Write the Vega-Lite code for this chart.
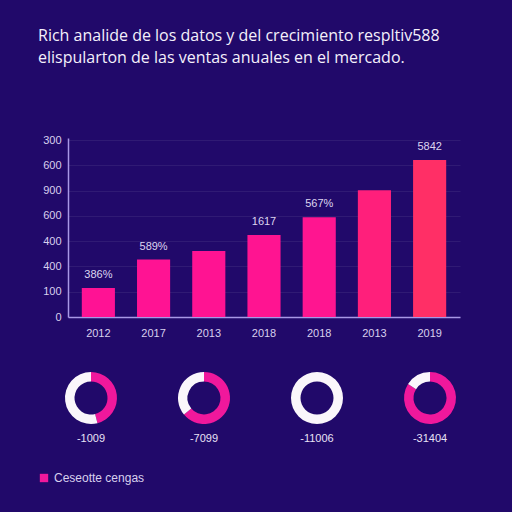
{
  "$schema": "https://vega.github.io/schema/vega-lite/v6.json",
  "background": "#21096a",
  "padding": {"left": 38, "top": 28, "right": 52, "bottom": 30},
  "title": {
    "text": ["Rich analide de los datos y del crecimiento respltiv588", "elispularton de las ventas anuales en el mercado."],
    "anchor": "start",
    "color": "#f4f0fb",
    "font": "Open Sans",
    "fontSize": 16,
    "fontWeight": "normal",
    "lineHeight": 22,
    "offset": 68
  },
  "config": {
    "view": {"stroke": null},
    "font": "Liberation Sans",
    "axis": {
      "labelColor": "#d8d0ee",
      "labelFontSize": 11,
      "labelFont": "Liberation Sans",
      "domainColor": "#a898e6",
      "domainWidth": 1.5,
      "ticks": false,
      "title": null
    }
  },
  "spacing": 34,
  "vconcat": [
    {
      "width": 392,
      "height": 179,
      "data": {
        "values": [
          {"i": 1, "year": "2012", "value": 115, "label": "386%"},
          {"i": 2, "year": "2017", "value": 227, "label": "589%"},
          {"i": 3, "year": "2013", "value": 261, "label": ""},
          {"i": 4, "year": "2018", "value": 324, "label": "1617"},
          {"i": 5, "year": "2018", "value": 395, "label": "567%"},
          {"i": 6, "year": "2013", "value": 501, "label": ""},
          {"i": 7, "year": "2019", "value": 621, "label": "5842"}
        ]
      },
      "encoding": {
        "x": {
          "field": "i",
          "type": "ordinal",
          "scale": {"paddingInner": 0.4, "paddingOuter": 0.25},
          "axis": {
            "labelAngle": 0,
            "labelPadding": 10,
            "labelExpr": "['2012','2017','2013','2018','2018','2013','2019'][datum.value - 1]"
          }
        },
        "y": {
          "field": "value",
          "type": "quantitative",
          "scale": {"domain": [0, 708], "nice": false},
          "axis": {
            "values": [0, 100, 200, 300, 400, 500, 600, 700],
            "labelPadding": 7,
            "grid": true,
            "gridColor": "#ffffff",
            "gridOpacity": 0.07,
            "labelExpr": "['0','100','400','400','600','900','600','300'][datum.value / 100]"
          }
        }
      },
      "layer": [
        {
          "mark": {"type": "bar"},
          "encoding": {
            "color": {
              "field": "i",
              "type": "quantitative",
              "scale": {"domain": [1, 5, 7], "range": ["#ff1294", "#ff1590", "#ff2f66"]},
              "legend": null
            }
          }
        },
        {
          "mark": {"type": "text", "dy": -13, "color": "#ddd6f0", "fontSize": 11, "baseline": "middle"},
          "encoding": {"text": {"field": "label"}}
        }
      ]
    },
    {
      "data": {
        "values": [
          {"d": "-1009", "part": "Ceseotte cengas", "v": 0.46},
          {"d": "-1009", "part": "Otros", "v": 0.54},
          {"d": "-7099", "part": "Ceseotte cengas", "v": 0.64},
          {"d": "-7099", "part": "Otros", "v": 0.36},
          {"d": "-11006", "part": "Ceseotte cengas", "v": 0},
          {"d": "-11006", "part": "Otros", "v": 1},
          {"d": "-31404", "part": "Ceseotte cengas", "v": 0.84},
          {"d": "-31404", "part": "Otros", "v": 0.16}
        ]
      },
      "facet": {
        "column": {
          "field": "d",
          "sort": ["-1009", "-7099", "-11006", "-31404"],
          "header": {
            "title": null,
            "labelOrient": "bottom",
            "labelColor": "#e8e2f6",
            "labelFontSize": 11,
            "labelFont": "Liberation Sans",
            "labelPadding": 9
          }
        }
      },
      "spacing": 61,
      "spec": {
        "width": 46,
        "height": 52,
        "mark": {"type": "arc", "outerRadius": 26, "innerRadius": 16.5},
        "encoding": {
          "theta": {"field": "v", "type": "quantitative", "stack": true},
          "order": {"field": "part", "sort": "ascending"},
          "color": {
            "field": "part",
            "type": "nominal",
            "scale": {"domain": ["Ceseotte cengas", "Otros"], "range": ["#f0189c", "#faf6fb"]},
            "legend": {
              "orient": "none",
              "legendX": -30,
              "legendY": 100,
              "values": ["Ceseotte cengas"],
              "title": null,
              "symbolType": "square",
              "symbolSize": 70,
              "labelColor": "#d8d0ee",
              "labelFontSize": 12,
              "labelFont": "Liberation Sans"
            }
          }
        }
      }
    }
  ]
}
